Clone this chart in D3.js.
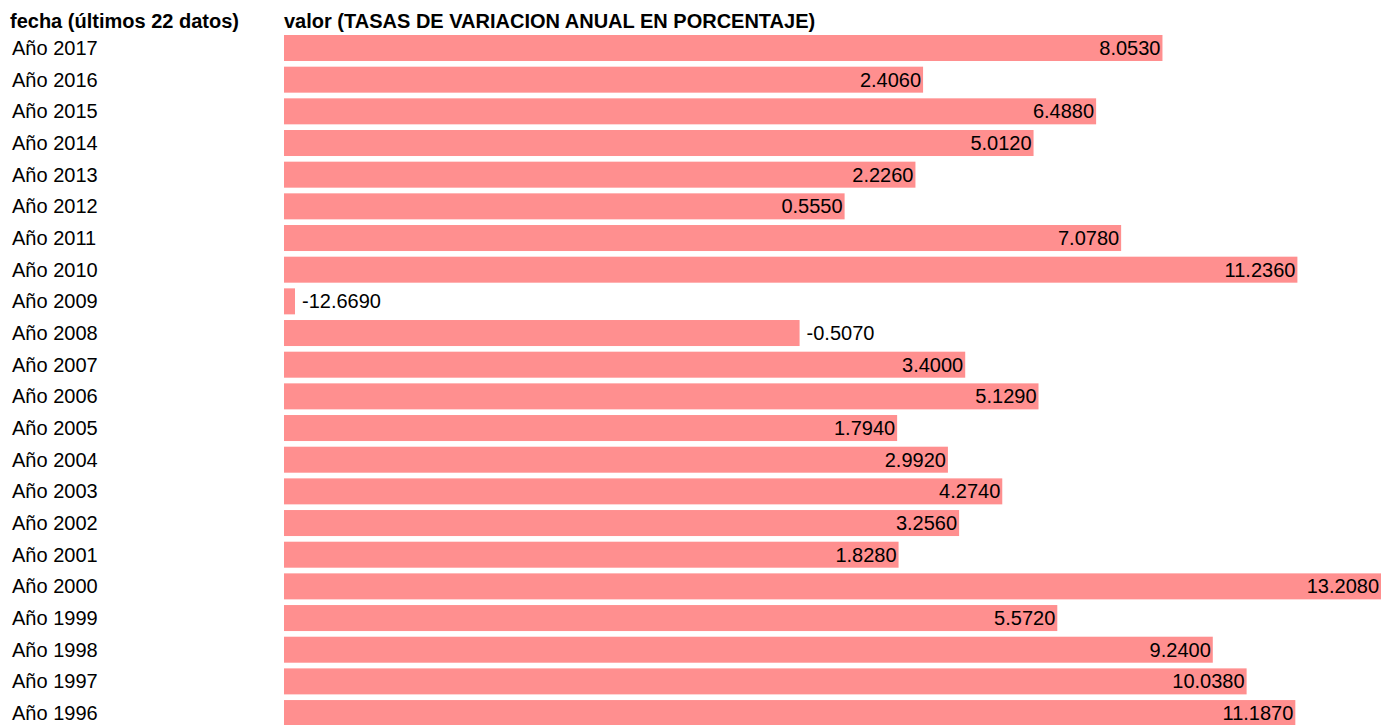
<!DOCTYPE html>
<html><head><meta charset="utf-8">
<script src="https://cdn.jsdelivr.net/npm/d3@7"></script>
<style>body{margin:0;background:#fff;}svg{display:block;font-family:"Liberation Sans",Arial,sans-serif;}</style>
</head><body>
<svg id="chart" width="1393" height="725"></svg>
<script>
const categories = ["Año 2017","Año 2016","Año 2015","Año 2014","Año 2013","Año 2012","Año 2011","Año 2010","Año 2009","Año 2008","Año 2007","Año 2006","Año 2005","Año 2004","Año 2003","Año 2002","Año 2001","Año 2000","Año 1999","Año 1998","Año 1997","Año 1996"];
const values = [8.0530,2.4060,6.4880,5.0120,2.2260,0.5550,7.0780,11.2360,-12.6690,-0.5070,3.4000,5.1290,1.7940,2.9920,4.2740,3.2560,1.8280,13.2080,5.5720,9.2400,10.0380,11.1870];
const headers = ["fecha (últimos 22 datos)","valor (TASAS DE VARIACION ANUAL EN PORCENTAJE)"];

const svg = d3.select("#chart");
const x0 = 284;
const x = d3.scaleLinear().domain([d3.min(values), d3.max(values)]).range([0, 1097]);
const y = d3.scaleBand().domain(categories).range([32.15, 728.9]).paddingInner(0.179).paddingOuter(0.09);
const data = categories.map((c,i)=>({c, v: values[i]}));

svg.append("text").attr("x",10).attr("y",28).attr("font-weight","bold").attr("font-size",20).text(headers[0]);
svg.append("text").attr("x",x0).attr("y",28).attr("font-weight","bold").attr("font-size",20).text(headers[1]);

const g = svg.append("g");
g.selectAll("text.cat").data(data).join("text").attr("class","cat")
  .attr("x",12).attr("y",d=>y(d.c)+y.bandwidth()/2).attr("dy","0.35em")
  .attr("font-size",20).attr("fill","#000").text(d=>d.c);

const w = d => Math.max(x(d.v), 11);
g.selectAll("rect").data(data).join("rect")
  .attr("x",x0).attr("y",d=>y(d.c)).attr("width",w).attr("height",y.bandwidth())
  .attr("fill","#ff8f8f");

g.selectAll("text.val").data(data).join("text").attr("class","val")
  .attr("x",d=> d.v<0 ? x0+w(d)+7 : x0+w(d)-2)
  .attr("text-anchor",d=> d.v<0 ? "start" : "end")
  .attr("y",d=>y(d.c)+y.bandwidth()/2).attr("dy","0.35em")
  .attr("font-size",20).attr("fill","#000").text(d=>d.v.toFixed(4));
</script>
</body></html>
